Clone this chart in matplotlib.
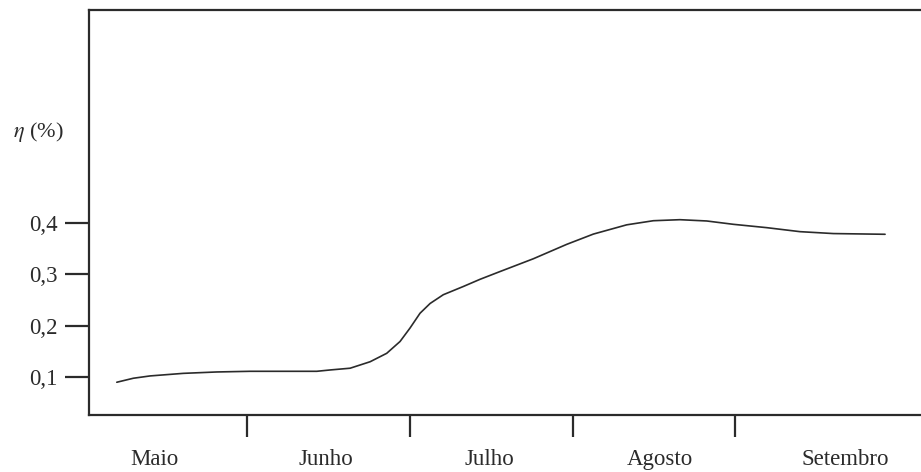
import matplotlib
matplotlib.use('Agg')
import matplotlib.pyplot as plt

plt.rcParams['font.family'] = ['Liberation Serif', 'DejaVu Serif']
plt.rcParams['mathtext.fontset'] = 'stix'

# month index (0 = start of Maio) and efficiency values
mes = [0.197, 0.299, 0.402, 0.606, 0.812, 1.017, 1.221, 1.427, 1.509, 1.632,
       1.755, 1.857, 1.939, 2.0, 2.062, 2.124, 2.205, 2.328, 2.431, 2.553,
       2.759, 2.964, 3.128, 3.333, 3.497, 3.66, 3.825, 3.989, 4.194, 4.399,
       4.604, 4.922]
eta = [0.0897, 0.0975, 0.102, 0.107, 0.1097, 0.111, 0.111, 0.111, 0.1136, 0.117,
       0.1296, 0.146, 0.169, 0.195, 0.224, 0.243, 0.26, 0.276, 0.29, 0.305,
       0.33, 0.358, 0.378, 0.396, 0.404, 0.406, 0.4035, 0.397, 0.3905, 0.3827,
       0.379, 0.3776]

meses = ['Maio', 'Junho', 'Julho', 'Agosto', 'Setembro']
yticks = [0.1, 0.2, 0.3, 0.4]
yticklabels = ['0,1', '0,2', '0,3', '0,4']

ink = '#2b2b2b'
fig = plt.figure(figsize=(9.21, 4.72), dpi=100)
ax = fig.add_axes([0.0961, 0.1208, 0.9039, 0.858])

ax.plot(mes, eta, color=ink, lw=1.2, solid_capstyle='round', solid_joinstyle='round')

ax.set_xlim(0.023, 5.143)
ax.set_ylim(0.026, 0.814)

ax.spines['right'].set_visible(False)
for s in ['left', 'top', 'bottom']:
    ax.spines[s].set_linewidth(1.6)
    ax.spines[s].set_color(ink)

ax.set_yticks(yticks)
ax.set_yticklabels(yticklabels, fontsize=16.5, color=ink)
ax.tick_params(axis='y', length=17, width=1.6, color=ink, pad=5)

ax.set_xticks([1, 2, 3, 4])
ax.set_xticklabels([])
ax.tick_params(axis='x', length=16, width=1.6, color=ink)

label_pos = [0.43, 1.48, 2.49, 3.54, 4.68]
for p, m in zip(label_pos, meses):
    ax.text(p, -0.111, m, ha='center', va='center', fontsize=16.5, color=ink,
            transform=ax.get_xaxis_transform())

fig.text(38 / 921, 1 - 132 / 472, r'$\eta$ (%)', ha='center', va='center',
         fontsize=16, color=ink)

fig.savefig('out.png', dpi=100, facecolor='white')
